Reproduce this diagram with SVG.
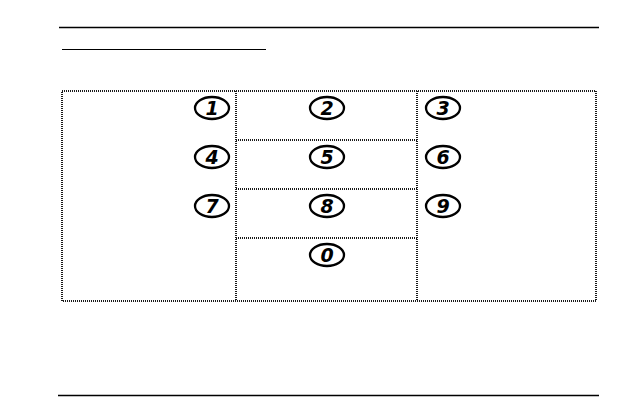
<svg xmlns="http://www.w3.org/2000/svg" width="624" height="420" viewBox="0 0 624 420">
<style>
.rule{stroke:#000;fill:none}
.dot{stroke:#1a1a1a;stroke-width:2;stroke-dasharray:1 1;fill:none;shape-rendering:crispEdges}
.oval{fill:#fff;stroke:#000;stroke-width:2.3}
.num{font-family:"DejaVu Sans","Liberation Sans",sans-serif;font-weight:bold;font-style:italic;font-size:19px;text-anchor:middle;fill:#000}
</style>
<rect width="624" height="420" fill="#fff"/>
<g id="rules">
<line class="rule" x1="59" y1="27.5" x2="599" y2="27.5" stroke-width="1.5"/>
<line class="rule" x1="62" y1="49.5" x2="266" y2="49.5" stroke-width="1.2"/>
<line class="rule" x1="58" y1="395.5" x2="599" y2="395.5" stroke-width="1.5"/>
</g>
<g id="grid">
<rect class="dot" x="62" y="91" width="534" height="210"/>
<line class="dot" x1="236" y1="91" x2="236" y2="301"/>
<line class="dot" x1="417" y1="91" x2="417" y2="301"/>
<line class="dot" x1="236" y1="140" x2="417" y2="140" style="stroke-width:1.5"/>
<line class="dot" x1="236" y1="189" x2="417" y2="189" style="stroke-width:1.5"/>
<line class="dot" x1="236" y1="238" x2="417" y2="238" style="stroke-width:1.5"/>
</g>
<g id="k1"><ellipse class="oval" cx="212" cy="108" rx="17" ry="11"/><text class="num" x="212" y="115">1</text></g>
<g id="k2"><ellipse class="oval" cx="327" cy="108" rx="17" ry="11"/><text class="num" x="327" y="115">2</text></g>
<g id="k3"><ellipse class="oval" cx="443" cy="108" rx="17" ry="11"/><text class="num" x="443" y="115">3</text></g>
<g id="k4"><ellipse class="oval" cx="212" cy="157" rx="17" ry="11"/><text class="num" x="212" y="164">4</text></g>
<g id="k5"><ellipse class="oval" cx="327" cy="157" rx="17" ry="11"/><text class="num" x="327" y="164">5</text></g>
<g id="k6"><ellipse class="oval" cx="443" cy="157" rx="17" ry="11"/><text class="num" x="443" y="164">6</text></g>
<g id="k7"><ellipse class="oval" cx="212" cy="206" rx="17" ry="11"/><text class="num" x="212" y="213">7</text></g>
<g id="k8"><ellipse class="oval" cx="327" cy="206" rx="17" ry="11"/><text class="num" x="327" y="213">8</text></g>
<g id="k9"><ellipse class="oval" cx="443" cy="206" rx="17" ry="11"/><text class="num" x="443" y="213">9</text></g>
<g id="k0"><ellipse class="oval" cx="327" cy="255" rx="17" ry="11"/><text class="num" x="327" y="262">0</text></g>
</svg>
